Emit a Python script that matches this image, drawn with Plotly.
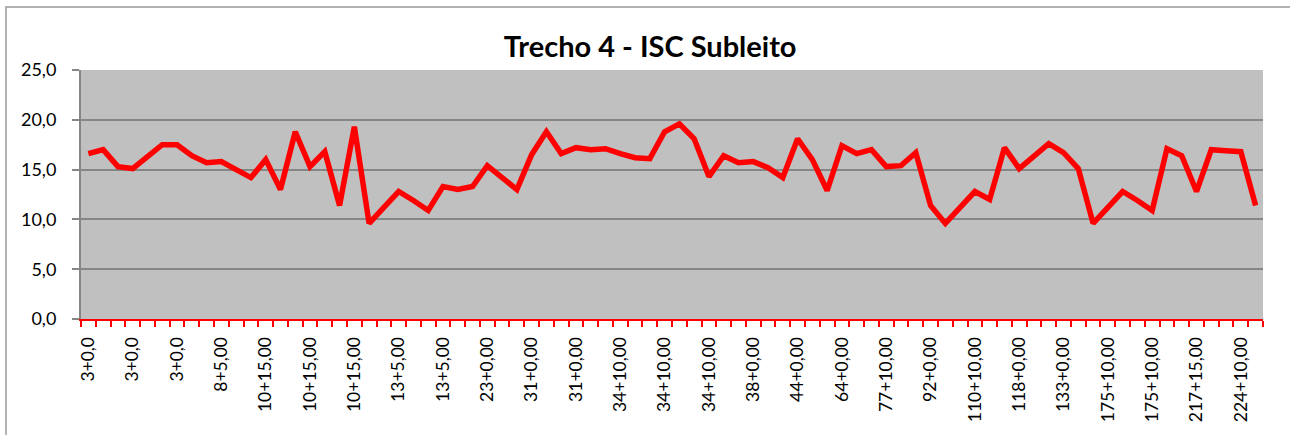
import plotly.graph_objects as go

# Estacas shown on the category axis (every third station is labelled)
tick_labels = [
    "3+0,0", "3+0,0", "3+0,0", "8+5,00", "10+15,00", "10+15,00", "10+15,00",
    "13+5,00", "13+5,00", "23+0,00", "31+0,00", "31+0,00", "34+10,00",
    "34+10,00", "34+10,00", "38+0,00", "44+0,00", "64+0,00", "77+10,00",
    "92+0,00", "110+10,00", "118+0,00", "133+0,00", "175+10,00", "175+10,00",
    "217+15,00", "224+10,00",
]
label_step = 3

# ISC do subleito (%) per station
isc_values = [
    16.6, 17.0, 15.3, 15.1, 16.3, 17.5, 17.5, 16.4, 15.7, 15.8,
    15.0, 14.2, 16.0, 13.0, 18.8, 15.3, 16.8, 11.4, 19.3, 9.6,
    11.2, 12.8, 11.9, 10.9, 13.3, 13.0, 13.3, 15.4, 14.2, 13.0,
    16.5, 18.8, 16.6, 17.2, 17.0, 17.1, 16.6, 16.2, 16.1, 18.8,
    19.6, 18.1, 14.3, 16.4, 15.7, 15.8, 15.2, 14.2, 18.1, 16.0,
    12.9, 17.4, 16.6, 17.0, 15.3, 15.4, 16.7, 11.4, 9.6, 11.2,
    12.8, 12.0, 17.2, 15.1, 16.4, 17.6, 16.7, 15.1, 9.6, 11.2,
    12.8, 11.9, 10.9, 17.1, 16.4, 12.8, 17.0, 16.9, 16.8, 11.4,
]

x_idx = list(range(len(isc_values)))
tick_positions = x_idx[::label_step][:len(tick_labels)]

FONT = "Lato"

fig = go.Figure()
fig.add_trace(go.Scatter(
    x=x_idx,
    y=isc_values,
    mode="lines",
    line=dict(color="#FF0000", width=5.5),
    showlegend=False,
    hoverinfo="y",
))

fig.update_layout(
    width=1290,
    height=435,
    margin=dict(l=81, r=27, t=70, b=116, pad=0),
    paper_bgcolor="white",
    plot_bgcolor="#C0C0C0",
    separators=",.",
    font=dict(family=FONT, size=18, color="black"),
    title=dict(
        text="<b>Trecho 4 - ISC Subleito</b>",
        font=dict(family=FONT, size=29, color="black"),
        xref="container", x=0.504, xanchor="center",
        yref="container", y=1 - 47 / 435, yanchor="middle",
    ),
    xaxis=dict(
        range=[-0.5, len(isc_values) - 0.5],
        automargin=False,
        tickmode="array",
        tickvals=tick_positions,
        ticktext=tick_labels,
        tickangle=-90,
        ticks="",
        ticklabelstandoff=9,
        showgrid=False,
        zeroline=False,
        showline=True,
        linecolor="#FF0000",
        linewidth=2,
        tickfont=dict(family=FONT, size=17.5, color="black"),
        minor=dict(
            tickmode="linear",
            tick0=0.5,
            dtick=1,
            ticks="outside",
            ticklen=6,
            tickwidth=2,
            tickcolor="#FF0000",
            showgrid=False,
        ),
    ),
    yaxis=dict(
        range=[0, 25],
        automargin=False,
        tickmode="linear",
        tick0=0,
        dtick=5,
        tickformat=".1f",
        ticks="outside",
        ticklen=7,
        tickwidth=2,
        tickcolor="#868686",
        showline=True,
        linecolor="#868686",
        linewidth=2,
        showgrid=True,
        gridcolor="#868686",
        gridwidth=2,
        zeroline=False,
        ticklabelstandoff=12,
        tickfont=dict(family=FONT, size=18, color="black"),
    ),
    shapes=[
        # outer chart border
        dict(
            type="rect", xref="paper", yref="paper",
            x0=(6 - 81) / 1182, x1=1.3,
            y0=-0.6, y1=(319 - 7) / 249,
            line=dict(color="#9A9A9A", width=1.5),
            fillcolor="rgba(0,0,0,0)",
            layer="below",
        ),
    ],
)

fig.write_html("out.html")
